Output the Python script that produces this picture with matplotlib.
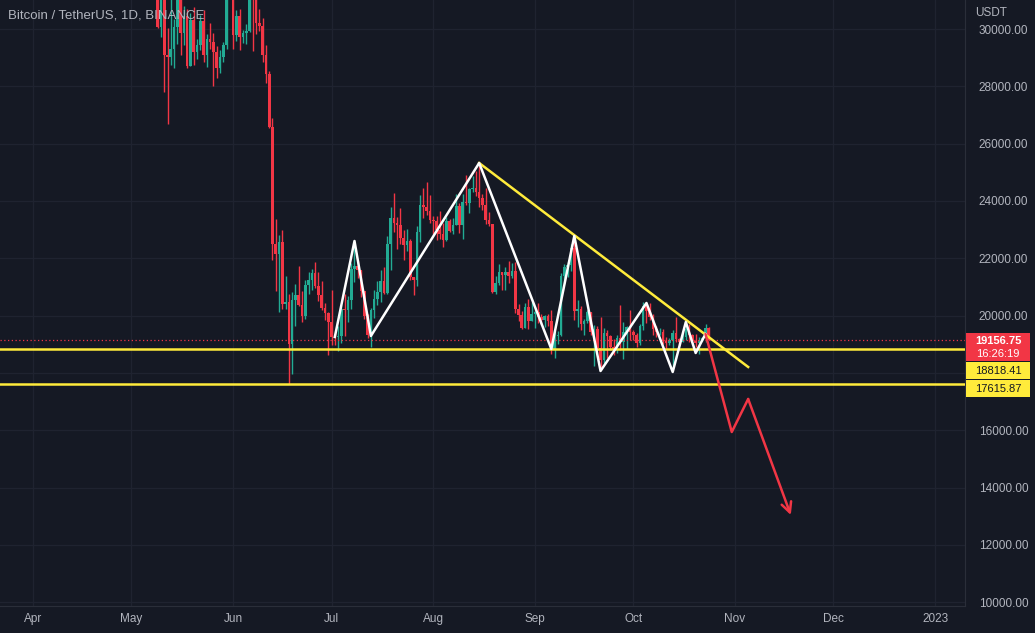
import numpy as np
import pandas as pd
import matplotlib
matplotlib.use('Agg')
import matplotlib.pyplot as plt
import matplotlib.dates as mdates
import matplotlib.patches as patches

# daily BTC/USDT candles, 2022-05-08 .. 2022-10-24
first_day = '2022-05-08'
first_open = 35468

closes_may = [34038, 30076, 31017, 29103, 29030, 29287, 30086, 31328, 29874, 30444, 28715, 30319,
              29201, 29445, 30293, 29110, 29655, 29542, 29202, 28622, 29020, 29446, 31726, 31793]
highs_may = [35510, 34243, 32659, 32162, 30033, 31083, 30343, 31460, 31328, 30788, 30709, 30545,
             30777, 29656, 30487, 30670, 29827, 30223, 29850, 29397, 29250, 29558, 32222, 32399]
lows_may = [33714, 30033, 29731, 27785, 26700, 28751, 28630, 29480, 29087, 29450, 28654, 28694,
            28730, 28947, 29255, 28866, 28669, 29294, 28019, 28282, 28450, 28843, 29299, 31200]

closes_jun = [29800, 30468, 29705, 29865, 29920, 31373, 31125, 30204, 30109, 29091, 28424, 26574,
              22487, 22136, 22584, 20401, 20469, 19017, 20554, 20720, 20360, 19970, 21085, 21232,
              21502, 21027, 20735, 20280, 20105, 19785]
highs_jun = [31982, 30669, 30690, 29955, 30180, 31765, 31556, 31330, 30700, 30383, 29440, 28544,
             26895, 23363, 22800, 22995, 21365, 20758, 20815, 21090, 21723, 20872, 21233, 21529,
             21614, 21868, 21520, 21200, 20432, 20141]
lows_jun = [29311, 29594, 29282, 29500, 29485, 29880, 29219, 29843, 29944, 28850, 28099, 26560,
            21925, 20846, 20111, 20232, 20247, 17622, 17960, 19637, 20348, 19771, 19890, 20740,
            20906, 20970, 20500, 20188, 19856, 18626]

closes_jul = [19269, 19243, 19297, 20231, 20190, 20548, 21637, 21731, 21592, 20860, 19970, 19329,
              20212, 20573, 20836, 21190, 20779, 22485, 23389, 23231, 23164, 22714, 22465, 22609,
              21361, 21239, 22930, 23843, 23804, 23656, 23336]
highs_jul = [20876, 19400, 19650, 20354, 20750, 20675, 21839, 22527, 21955, 21600, 20866, 20048,
             20259, 20880, 21200, 21588, 21684, 22777, 23800, 24276, 23442, 23757, 22998, 23014,
             22666, 21361, 23112, 24199, 24442, 24668, 24194]
lows_jul = [18966, 18975, 18781, 19055, 19305, 19761, 20237, 21183, 21317, 20652, 19890, 19235,
            18910, 19900, 20383, 20478, 20750, 20762, 21581, 22906, 22341, 22500, 21950, 22257,
            21250, 20706, 21042, 22583, 23414, 23502, 23227]

closes_aug = [23314, 22978, 22846, 22630, 23313, 22954, 23175, 23810, 23149, 23954, 23934, 24403,
              24441, 24305, 24094, 23854, 23342, 23191, 20834, 21140, 21517, 21416, 21529, 21368,
              21559, 20241, 20037, 19555, 20285, 19812, 20050]
highs_aug = [23464, 23471, 23647, 23223, 23450, 23354, 23400, 24245, 23933, 24226, 24918, 24456,
             24888, 25047, 25211, 24247, 24446, 23600, 23208, 21382, 21800, 21522, 21686, 21900,
             21819, 21886, 20402, 20147, 20433, 20580, 20490]
lows_aug = [22850, 22654, 22681, 22400, 22586, 22909, 22844, 23155, 22865, 22664, 23852, 23580,
            24296, 24160, 23773, 23671, 23180, 23111, 20783, 20761, 21069, 20890, 20890, 21152,
            21310, 20107, 19800, 19520, 19550, 19530, 19800]

closes_sep = [20131, 19951, 19832, 19986, 19812, 18837, 19290, 19329, 21381, 21680, 21769, 22370,
              20173, 20227, 19701, 19803, 20113, 19416, 19538, 18875, 18461, 19401, 19289, 18920,
              18803, 19222, 19079, 19413, 19591, 19422]
highs_sep = [20208, 20444, 20055, 20029, 20058, 20180, 19464, 19453, 21500, 21792, 21860, 22488,
             22799, 20540, 20332, 19890, 20190, 20117, 19686, 19634, 19956, 19550, 19500, 19316,
             19180, 19318, 20385, 19790, 19645, 20185]
lows_sep = [19565, 19753, 19655, 19600, 19633, 18650, 18510, 19012, 19300, 21100, 21360, 21539,
            19860, 19617, 19497, 19320, 19748, 19335, 18232, 18711, 18125, 18355, 18531, 18805,
            18629, 18680, 18816, 18471, 18843, 19155]

closes_oct = [19310, 19056, 19630, 20337, 20158, 19960, 19531, 19417, 19439, 19131, 19060, 19155,
              19382, 19185, 19067, 19268, 19549, 19327, 19123, 19041, 19164, 19205, 19571, 19156.75]
highs_oct = [19484, 19395, 19719, 20475, 20365, 20456, 20041, 19621, 19560, 19525, 19268, 19225,
             19513, 19951, 19227, 19426, 19676, 19706, 19360, 19347, 19250, 19257, 19695, 19601]
lows_oct = [19159, 18920, 18959, 19490, 19730, 19853, 19320, 19250, 19316, 19020, 18860, 18966,
            18190, 19070, 18975, 19063, 19159, 19091, 19072, 18900, 18650, 19112, 19070, 19150]

# drawings on the chart
zigzag_dates = ['2022-07-02', '2022-07-08', '2022-07-13', '2022-08-15', '2022-09-06', '2022-09-13',
                '2022-09-21', '2022-10-05', '2022-10-13', '2022-10-17', '2022-10-20', '2022-10-23']
zigzag_prices = [19253, 22603, 19288, 25324, 18835, 22777, 18067, 20440, 18032, 19777, 18695, 19358]
trend_dates = ['2022-08-15', '2022-11-05']
trend_prices = [25324, 18207]
forecast_dates = ['2022-10-23', '2022-10-31', '2022-11-05', '2022-11-18']
forecast_prices = [19358, 15938, 17090, 13042]
levels = [18818.41, 17615.87]
last_price = 19156.75
countdown = '16:26:19'

closes = closes_may + closes_jun + closes_jul + closes_aug + closes_sep + closes_oct
highs = highs_may + highs_jun + highs_jul + highs_aug + highs_sep + highs_oct
lows = lows_may + lows_jun + lows_jul + lows_aug + lows_sep + lows_oct
opens = [first_open] + closes[:-1]
dates = mdates.date2num(pd.date_range(first_day, periods=len(closes), freq='D'))

opens = np.array(opens, dtype=float)
closes = np.array(closes, dtype=float)
highs = np.array(highs, dtype=float)
lows = np.array(lows, dtype=float)

bg = '#151924'
grid_c = '#1f2330'
text_c = '#b2b5be'
up_c = '#22ab94'
down_c = '#f23645'
yellow = '#ffeb3b'

W, H = 1035, 633
fig = plt.figure(figsize=(W / 100, H / 100), dpi=100, facecolor=bg)
ax = fig.add_axes([0, 27 / H, 965 / W, 606 / H], facecolor=bg)

up = closes >= opens
colors = np.where(up, up_c, down_c)
ax.vlines(dates, lows, highs, colors=colors, linewidth=1.0, zorder=2)
body = np.abs(closes - opens)
body = np.maximum(body, 25)
ax.bar(dates, body, bottom=np.minimum(opens, closes), width=0.8, color=colors,
       linewidth=0, zorder=3)

# drawings
for lv in levels:
    ax.axhline(lv, color=yellow, linewidth=1.8, zorder=5)
ax.axhline(last_price, color=down_c, linewidth=0.9, linestyle=(0, (1, 2)), zorder=4)
ax.plot(mdates.datestr2num(trend_dates), trend_prices, color=yellow, linewidth=1.8, zorder=5)
ax.plot(mdates.datestr2num(zigzag_dates), zigzag_prices, color='white', linewidth=1.8, zorder=6)
fx = mdates.datestr2num(forecast_dates)
ax.plot(fx[:-1], forecast_prices[:-1], color=down_c, linewidth=1.8, zorder=6,
        solid_capstyle='round')
ax.annotate('', xy=(fx[-1], forecast_prices[-1]), xytext=(fx[-2], forecast_prices[-2]),
            arrowprops=dict(arrowstyle='->', color=down_c, lw=1.8, mutation_scale=18,
                            shrinkA=0, shrinkB=0), zorder=6)

# axes
x0 = mdates.datestr2num('2022-04-01')
ax.set_xlim(x0 - 10.06, x0 + 284.1)
ax.set_ylim(9867, 31012)

month_ticks = pd.to_datetime(['2022-04-01', '2022-05-01', '2022-06-01', '2022-07-01', '2022-08-01',
                              '2022-09-01', '2022-10-01', '2022-11-01', '2022-12-01', '2023-01-01'])
month_labels = ['Apr', 'May', 'Jun', 'Jul', 'Aug', 'Sep', 'Oct', 'Nov', 'Dec', '2023']
ax.set_xticks(mdates.date2num(month_ticks))
ax.set_xticklabels(month_labels)
price_ticks = np.arange(10000, 30001, 2000)
ax.set_yticks(price_ticks)
# 18000.00 sits under the price labels on the right scale
ax.set_yticklabels(['' if p == 18000 else '%.2f' % p for p in price_ticks])
ax.yaxis.tick_right()
ax.tick_params(axis='both', length=0, colors=text_c, labelsize=8.5)
ax.tick_params(axis='y', pad=10)
ax.tick_params(axis='x', pad=5)
for lab in ax.get_xticklabels() + ax.get_yticklabels():
    lab.set_family('Liberation Sans')
ax.grid(True, color=grid_c, linewidth=0.9, zorder=0)
for side in ['top', 'left']:
    ax.spines[side].set_visible(False)
ax.spines['right'].set_color('#2a2e39')
ax.spines['bottom'].set_color('#2a2e39')


def fig_box(x, y, w, h, color):
    fig.add_artist(patches.Rectangle((x / W, 1 - (y + h) / H), w / W, h / H,
                                     transform=fig.transFigure, facecolor=color,
                                     edgecolor='none', zorder=10))


fig_box(966, 333, 64, 28, down_c)
fig.text(998 / W, 1 - 341 / H, '%.2f' % last_price, color='white', fontsize=8,
         fontweight='bold', ha='center', va='center', family='Liberation Sans', zorder=11)
fig.text(998 / W, 1 - 354 / H, countdown, color='white', fontsize=8,
         ha='center', va='center', family='Liberation Sans', zorder=11)
fig_box(966, 362, 64, 17, yellow)
fig.text(998 / W, 1 - 370.5 / H, '%.2f' % levels[0], color='#131722', fontsize=8,
         ha='center', va='center', family='Liberation Sans', zorder=11)
fig_box(966, 380, 64, 17, yellow)
fig.text(998 / W, 1 - 388.5 / H, '%.2f' % levels[1], color='#131722', fontsize=8,
         ha='center', va='center', family='Liberation Sans', zorder=11)

fig.text(975 / W, 1 - 13 / H, 'USDT', color=text_c, fontsize=8.5, ha='left', va='center',
         family='Liberation Sans')
fig.text(8 / W, 1 - 16 / H, 'Bitcoin / TetherUS, 1D, BINANCE', color=text_c, fontsize=9.5,
         ha='left', va='center', family='Liberation Sans', zorder=11)

fig.savefig('out.png', dpi=100, facecolor=bg)
